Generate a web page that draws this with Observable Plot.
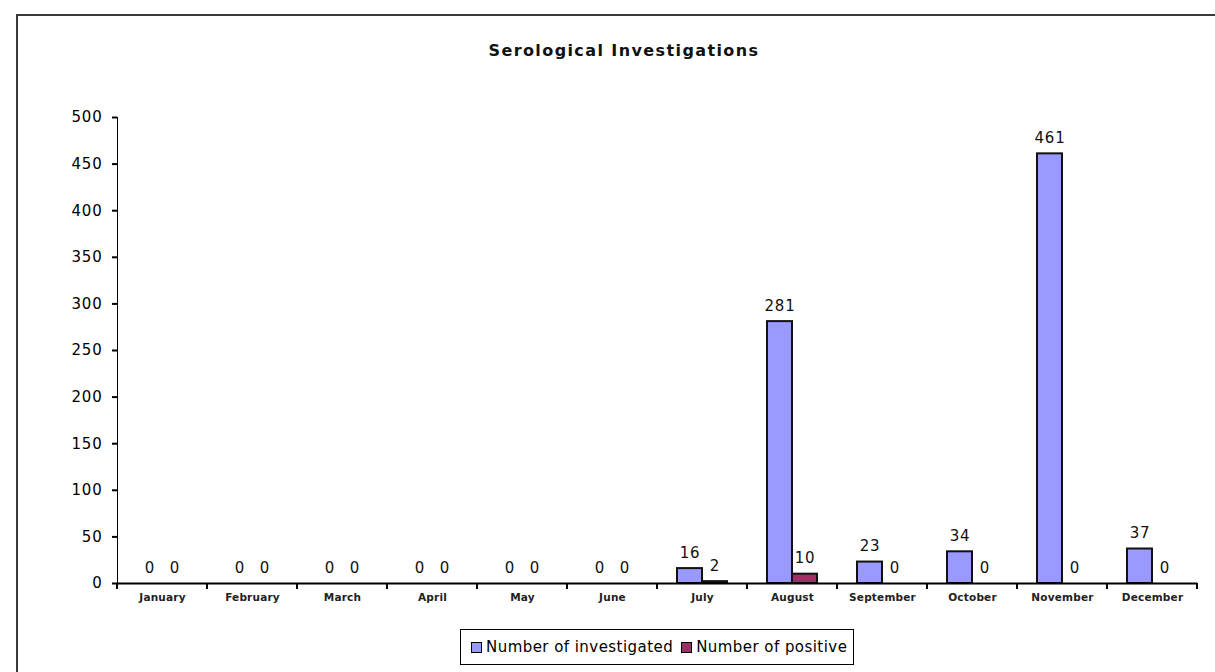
<!DOCTYPE html>
<html>
<head>
<meta charset="utf-8">
<script src="https://cdn.jsdelivr.net/npm/d3@7"></script>
<script src="https://cdn.jsdelivr.net/npm/@observablehq/plot@0.6"></script>
<style>
  html, body { margin: 0; padding: 0; background: #fff; width: 1215px; height: 672px; overflow: hidden; }
  #frame { position: absolute; left: 16px; top: 14px; width: 1400px; height: 900px; border: 2px solid #3a3a3a; box-sizing: border-box; }
  #title { position: absolute; left: 0; top: 42px; width: 1248px; text-align: center; font: bold 16px "DejaVu Sans"; line-height: 18px; letter-spacing: 1.4px; color: #111; }
  #chart { position: absolute; left: 0; top: 80px; }
  #legend { position: absolute; left: 460px; top: 629px; width: 394px; height: 36px; box-sizing: border-box; border: 1.5px solid #000; display: flex; align-items: center; padding-left: 10px; font: 15px "DejaVu Sans"; letter-spacing: 0.45px; color: #000; white-space: nowrap; }
  .item { display: flex; align-items: center; }
  .item + .item { margin-left: 8px; }
  .sw { width: 11px; height: 11px; box-sizing: border-box; border: 1.5px solid #000; margin-right: 4px; }
</style>
</head>
<body>
<div id="frame"></div>
<div id="title">Serological Investigations</div>
<div id="chart"></div>
<div id="legend"></div>
<script>
const months = ["January","February","March","April","May","June","July","August","September","October","November","December"];
const investigated = [0, 0, 0, 0, 0, 0, 16, 281, 23, 34, 461, 37];
const positive = [0, 0, 0, 0, 0, 0, 2, 10, 0, 0, 0, 0];
const seriesNames = ["Number of investigated", "Number of positive"];
const seriesColors = ["#9999FF", "#993366"];
const yTicks = [0, 50, 100, 150, 200, 250, 300, 350, 400, 450, 500];

const data = months.flatMap((m, i) => [
  {month: m, series: seriesNames[0], value: investigated[i]},
  {month: m, series: seriesNames[1], value: positive[i]}
]);

const plot = Plot.plot({
  width: 1215,
  height: 540,
  marginTop: 37,
  marginBottom: 37,
  marginLeft: 113,
  marginRight: 15,
  style: {fontFamily: "DejaVu Sans", fontSize: "15px", color: "#000", background: "transparent", overflow: "visible"},
  fx: {domain: months, paddingInner: 0, paddingOuter: 0, label: null, tickSize: 0, tickPadding: 10},
  x: {domain: seriesNames, paddingInner: 0, paddingOuter: 0.78, axis: null},
  y: {domain: [0, 500], ticks: yTicks, tickSize: 5, tickPadding: 10, label: null, line: true},
  color: {domain: seriesNames, range: seriesColors},
  marks: [
    Plot.barY(data, {fx: "month", x: "series", y: "value", fill: "series", stroke: "#111", strokeWidth: 2}),
    Plot.ruleY([0], {stroke: "#000", strokeWidth: 2}),
    Plot.text(data, {fx: "month", x: "series", y: "value", text: d => String(d.value), lineAnchor: "bottom", dy: -11, fontSize: 15, fill: "#111"})
  ]
});

const svg = d3.select(plot);
svg.selectAll('g[aria-label="fx-axis tick label"]').attr("font-size", 10.5).attr("font-weight", "bold").attr("letter-spacing", "0.2px").attr("fill", "#222");
svg.selectAll('g[aria-label="y-axis tick label"]').attr("letter-spacing", "0.8px");
svg.selectAll('g[aria-label="y-axis line"], g[aria-label="y-axis tick"]').attr("stroke-width", 2).attr("stroke", "#000");
svg.selectAll('g[aria-label="text"]').attr("letter-spacing", "0.8px");

// category boundary ticks on the x axis, placed from the fx scale
const fx = plot.scale("fx");
const y = plot.scale("y");
const bounds = months.map(m => fx.apply(m)).concat([fx.apply(months[months.length - 1]) + fx.bandwidth]);
const y0 = y.apply(0);
svg.append("g").attr("stroke", "#000").attr("stroke-width", 2)
  .selectAll("line").data(bounds).join("line")
  .attr("x1", d => d).attr("x2", d => d).attr("y1", y0).attr("y2", y0 + 6);

document.getElementById("chart").appendChild(plot);

const legend = document.getElementById("legend");
seriesNames.forEach((name, i) => {
  const item = document.createElement("div");
  item.className = "item";
  const sw = document.createElement("div");
  sw.className = "sw";
  sw.style.background = seriesColors[i];
  const label = document.createElement("span");
  label.textContent = name;
  item.appendChild(sw);
  item.appendChild(label);
  legend.appendChild(item);
});
</script>
</body>
</html>
